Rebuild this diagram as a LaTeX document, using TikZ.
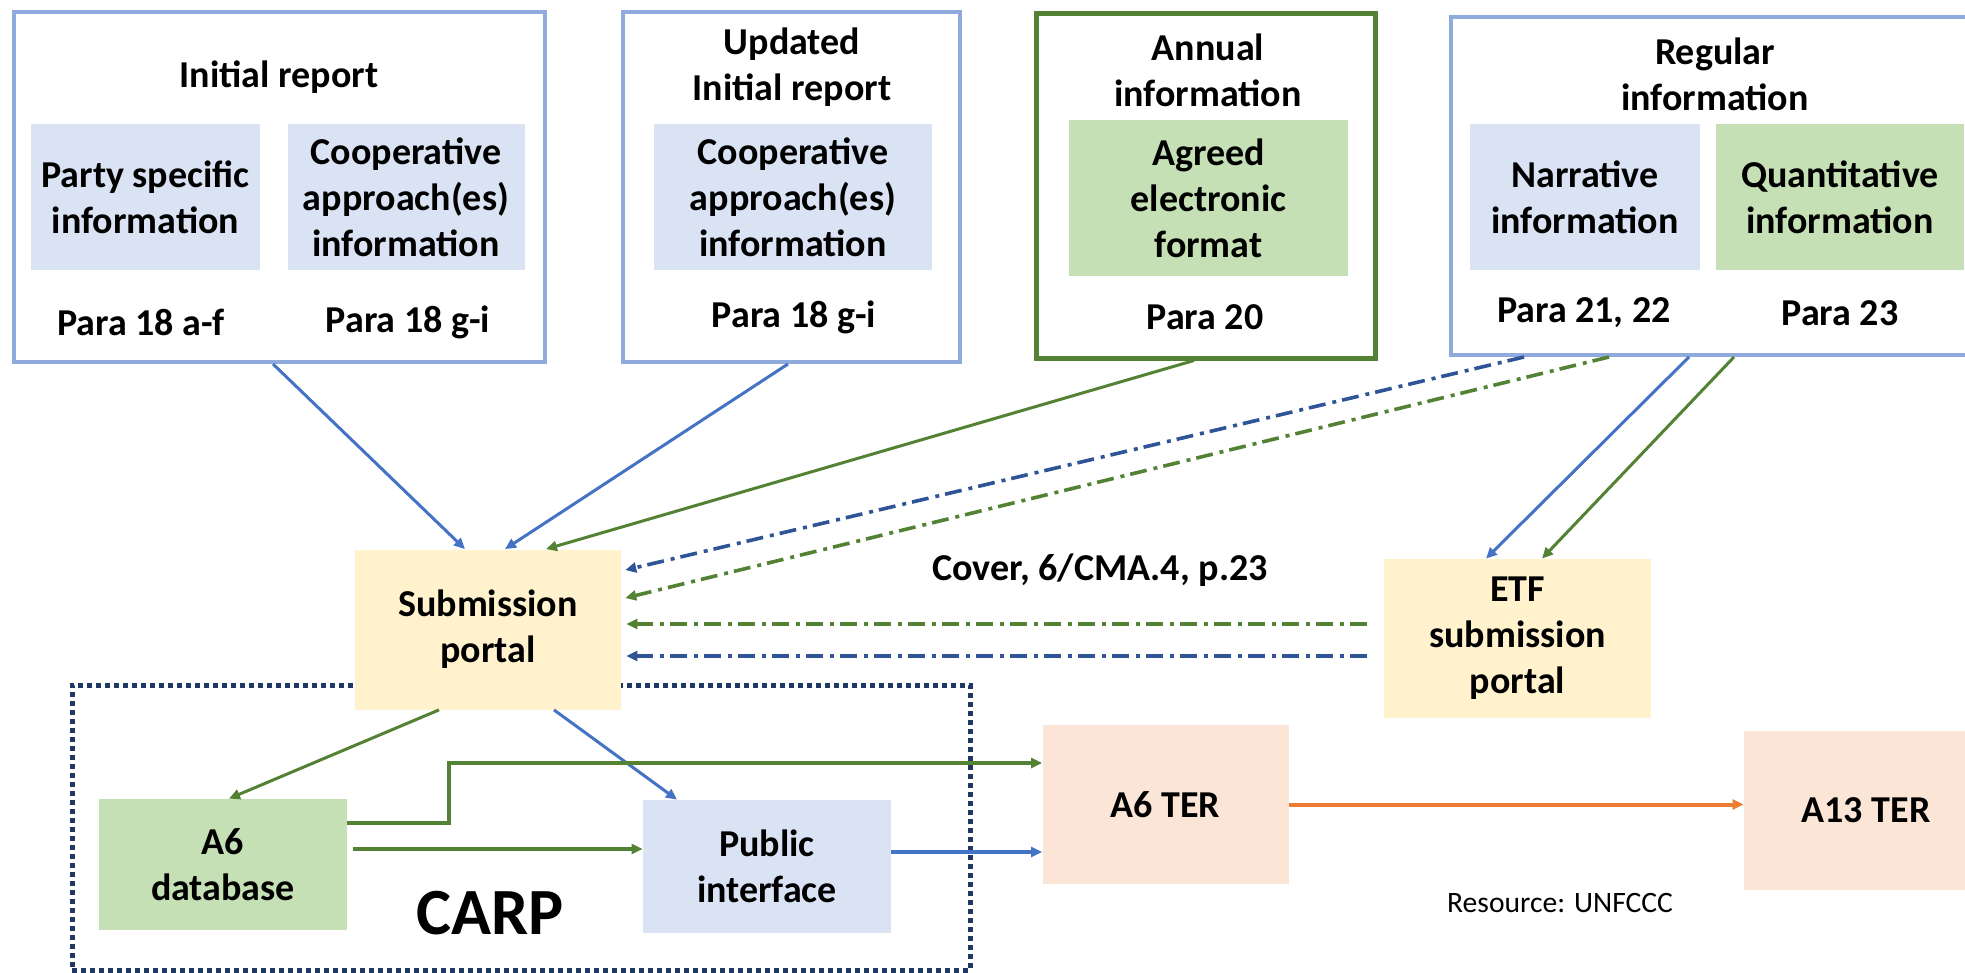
\documentclass[tikz,border=0pt]{standalone}
\usepackage{fontspec}
\setmainfont{Carlito}
\usepackage{xcolor}
\usetikzlibrary{arrows.meta}

\definecolor{boxblue}{HTML}{8FAADC}
\definecolor{fillblue}{HTML}{DAE3F3}
\definecolor{fillgreen}{HTML}{C5E0B4}
\definecolor{linegreen}{HTML}{548235}
\definecolor{lineblue}{HTML}{4472C4}
\definecolor{dashblue}{HTML}{2F5597}
\definecolor{fillyellow}{HTML}{FFF2CC}
\definecolor{fillsalmon}{HTML}{FBE5D6}
\definecolor{lineorange}{HTML}{ED7D31}
\definecolor{carpnavy}{HTML}{203864}

\begin{document}
\begin{tikzpicture}[x=0.5pt,y=-0.5pt,
    font=\fontsize{19}{23}\selectfont\bfseries,
    >={Triangle[length=5.5pt,width=5pt]},
    every node/.style={align=center,inner sep=0pt},
    group/.style={draw=boxblue,line width=2pt,minimum height=175pt},
    annual/.style={draw=linegreen,line width=2.5pt,minimum height=172pt},
    info/.style={fill=fillblue,minimum height=73pt},
    infog/.style={fill=fillgreen,minimum height=73pt},
    portal/.style={fill=fillyellow,minimum height=80pt},
    ter/.style={fill=fillsalmon,minimum width=123pt,minimum height=79.5pt},
    carpbox/.style={draw=carpnavy,line width=2.5pt,dash pattern=on 2.5pt off 2pt},
    barrow/.style={->,lineblue,line width=1.5pt},
    garrow/.style={->,linegreen,line width=1.5pt},
    ddblue/.style={->,dashblue,line width=1.8pt,dash pattern=on 8.5pt off 3pt on 2pt off 3.5pt},
    ddgreen/.style={->,linegreen,line width=1.8pt,dash pattern=on 8.5pt off 3pt on 2pt off 3.5pt}]

    \clip (0,0) rectangle (1965,973);

    % CARP frame, under the portal
    \node[carpbox,minimum width=449pt,minimum height=142.5pt] (carp) at (521,827.5) {};
    \node[font=\fontsize{33}{36}\selectfont\bfseries] (carpT) at (490,913) {CARP};

    % the four kinds of report
    \node[group,minimum width=265.5pt] (init) at (279.5,187) {};
    \node[group,minimum width=168.5pt] (upd) at (791.5,187) {};
    \node[annual,minimum width=169.5pt] (ann) at (1205.5,186) {};
    \node[group,minimum width=264pt,minimum height=169pt] (reg) at (1715,186) {};

    \node (initT) at (279,77) {Initial report};
    \node (updT) at (792,67.5) {Updated\\Initial report};
    \node (annT) at (1208,70) {Annual\\information};
    \node (regT) at (1715,74.5) {Regular\\information};

    \node[info,minimum width=114.5pt] (party) at (145.5,197) {Party specific\\information};
    \node[info,minimum width=118.5pt] (coopA) at (406,197) {Cooperative\\approach(es)\\information};
    \node[info,minimum width=139pt] (coopB) at (793,197) {Cooperative\\approach(es)\\information};
    \node[infog,minimum width=139.5pt,minimum height=78pt] (agreed) at (1208.5,198) {Agreed\\electronic\\format};
    \node[info,minimum width=115pt] (narr) at (1585,197) {Narrative\\information};
    \node[infog,minimum width=124pt] (quant) at (1840,197) {Quantitative\\information};

    \node (paraA) at (141,322) {Para 18 a-f};
    \node (paraB) at (408,322) {Para 18 g-i};
    \node (paraC) at (794,317) {Para 18 g-i};
    \node (paraD) at (1205,317) {Para 20};
    \node (paraE) at (1584,313) {Para 21, 22};
    \node (paraF) at (1840,313) {Para 23};

    % portals and registries
    \node[portal,minimum width=133pt] (sub) at (488,629.5) {Submission\\portal};
    \node[portal,minimum width=133.5pt,minimum height=79.5pt] (etf) at (1517.5,638.5) {ETF\\submission\\portal};
    \node[infog,minimum width=124pt,minimum height=65.5pt] (db) at (223,864.5) {A6\\database};
    \node[info,minimum width=124pt,minimum height=66.5pt] (pub) at (767,866.5) {Public\\interface};
    \node[ter] (ter6) at (1165.5,804.5) {A6 TER};
    \node[ter,minimum width=122pt] (ter13) at (1866,810.5) {A13 TER};

    \node (cover) at (1100,570) {Cover, 6/CMA.4, p.23};
    \node[font=\mdseries\fontsize{14.8}{17}\selectfont] (src) at (1560,903) {Resource: UNFCCC};

    % reports into the portals
    \draw[barrow] ([xshift=-3.25pt]init.south) -- ([xshift=-11.5pt]sub.north);
    \draw[barrow] ([xshift=-1.75pt]upd.south) -- ([xshift=8.5pt]sub.north);
    \draw[garrow] ([xshift=-5.75pt]ann.south) -- ([xshift=29pt]sub.north);
    \draw[ddblue,shorten >=2pt] ([xshift=-95.5pt]reg.south) -- ([yshift=29.25pt]sub.east);
    \draw[ddgreen,shorten >=2pt] ([xshift=-53pt]reg.south) -- ([yshift=15.25pt]sub.east);
    \draw[barrow] ([xshift=-13pt]reg.south) -- ([xshift=-15.75pt]etf.north);
    \draw[garrow] ([xshift=9.5pt]reg.south) -- ([xshift=12.25pt]etf.north);

    \coordinate (g1) at ([yshift=7.25pt]etf.west);
    \coordinate (b1) at ([yshift=-8.75pt]etf.west);
    \draw[ddgreen,shorten <=8.5pt,shorten >=2.5pt] (g1) -- (g1 -| sub.east);
    \draw[ddblue,shorten <=8.5pt,shorten >=2.5pt] (b1) -- (b1 -| sub.east);

    % inside CARP
    \draw[garrow] ([xshift=-24.5pt]sub.south) -- ([xshift=3pt]db.north);
    \draw[barrow] ([xshift=33pt]sub.south) -- ([xshift=-45pt]pub.north);
    \draw[garrow,line width=2pt] ([yshift=20.75pt]db.east) -- ++(51pt,0) |- ([yshift=20.75pt]ter6.west);
    \coordinate (d1) at ([yshift=7.75pt]db.east);
    \draw[garrow,line width=2pt,shorten <=3pt] (d1) -- (d1 -| pub.west);
    \coordinate (p1) at ([yshift=7.25pt]pub.east);
    \draw[barrow,line width=1.8pt] (p1) -- (p1 -| ter6.west);
    \draw[->,lineorange,line width=2pt] (ter6.east) -- (ter6.east -| ter13.west);
  \end{tikzpicture}
\end{document}
